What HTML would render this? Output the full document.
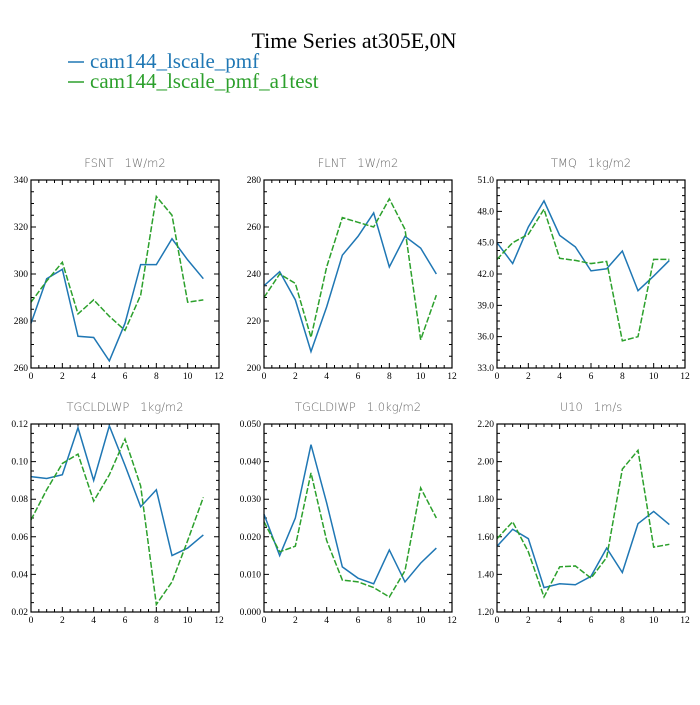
<!DOCTYPE html>
<html><head><meta charset="utf-8"><style>
body{margin:0;background:#fff;width:700px;height:700px;overflow:hidden}
svg text{font-family:"Liberation Serif",serif}
</style></head><body>
<svg id="c" width="700" height="700">
<text x="354" y="48" text-anchor="middle" font-size="22">Time Series at305E,0N</text>
<g>
<line x1="68" y1="62" x2="84" y2="62" stroke="#1f77b4" stroke-width="1.5"/>
<text x="90" y="68" font-size="21" fill="#1f77b4">cam144_lscale_pmf</text>
<line x1="68" y1="82" x2="84" y2="82" stroke="#2ca02c" stroke-width="1.5"/>
<text x="90" y="88" font-size="21" fill="#2ca02c">cam144_lscale_pmf_a1test</text>
</g>
</svg>
<script>
const months=[0,1,2,3,4,5,6,7,8,9,10,11];
const titles=["FSNT   1W/m2","FLNT   1W/m2","TMQ   1kg/m2","TGCLDLWP   1kg/m2","TGCLDIWP   1.0kg/m2","U10   1m/s"];
const yMins=[260,200,33,0.02,0,1.2];
const yMaxs=[340,280,51,0.12,0.05,2.2];
const yStepsMajor=[20,20,3,0.02,0.01,0.2];
const yDecimals=[0,0,1,2,3,2];
const fsntA=[279,298,302,273.5,273,263,279,304,304,315,306,298];
const fsntB=[288,297,305,283,289,282,276,291,333,325,288,289];
const flntA=[235,241,229,207,226,248,256,266,243,256,251,240];
const flntB=[230,240,236,213,243,264,262,260,272,259,212,231];
const tmqA=[45.0,43.0,46.5,49.0,45.7,44.6,42.3,42.5,44.2,40.4,41.8,43.3];
const tmqB=[43.4,45.0,45.8,48.2,43.5,43.3,43.0,43.2,35.6,36.0,43.4,43.4];
const lwpA=[0.092,0.091,0.093,0.118,0.090,0.119,0.098,0.076,0.085,0.050,0.054,0.061];
const lwpB=[0.069,0.085,0.099,0.104,0.079,0.093,0.112,0.087,0.024,0.036,0.058,0.081];
const iwpA=[0.026,0.015,0.025,0.0445,0.029,0.012,0.009,0.0075,0.0165,0.008,0.013,0.017];
const iwpB=[0.024,0.016,0.0175,0.037,0.019,0.0085,0.008,0.0065,0.004,0.011,0.033,0.025];
const u10A=[1.55,1.64,1.59,1.33,1.35,1.345,1.39,1.54,1.41,1.67,1.735,1.665];
const u10B=[1.59,1.68,1.52,1.28,1.44,1.445,1.38,1.49,1.96,2.06,1.545,1.56];
const seriesA=[fsntA,flntA,tmqA,lwpA,iwpA,u10A];
const seriesB=[fsntB,flntB,tmqB,lwpB,iwpB,u10B];
const names=["fsnt","flnt","tmq","tgcldlwp","tgcldiwp","u10"];
const NS="http://www.w3.org/2000/svg";
const svg=document.getElementById('c');
function mk(tag,attrs,parent){const e=document.createElementNS(NS,tag);for(const k in attrs)e.setAttribute(k,attrs[k]);parent.appendChild(e);return e;}
const lefts=[31,264,497],tops=[180,424];const W=188,H=188;
for(let p=0;p<6;p++){
  const L=lefts[p%3],T=tops[Math.floor(p/3)];
  const g=mk('g',{},svg);
  
  
  const yMin=yMins[p],yMax=yMaxs[p];
  const xs=v=>L+v/12*W, ys=v=>T+H-(v-yMin)/(yMax-yMin)*H;
  const t=mk('text',{x:L+W/2,y:T-13,'text-anchor':'middle','font-size':11.5,fill:'#666','style':'font-family:"DejaVu Sans",sans-serif;white-space:pre;font-weight:300'},g);
  t.textContent=titles[p];
  
  
  let d='';
  for(let i=0;i<=24;i++){const x=xs(i/2),len=i%4==0?5:3;d+=`M${x},${T+H}v${-len}M${x},${T}v${len}`;}
  const st=yStepsMajor[p]/4,n=Math.round((yMax-yMin)/st);
  for(let i=0;i<=n;i++){const y=ys(yMin+i*st),len=i%4==0?5:3;d+=`M${L},${y}h${len}M${L+W},${y}h${-len}`;}
  const tk=mk('path',{d:d,stroke:'#000','stroke-width':1,fill:'none'},g);
  
  
  for(let v=0;v<=12;v+=2){const tx=mk('text',{x:xs(v),y:T+H+11,'text-anchor':'middle','font-size':9.5},g);tx.textContent=v;
    
    }
  const nm=Math.round((yMax-yMin)/yStepsMajor[p]);
  for(let i=0;i<=nm;i++){const v=yMin+i*yStepsMajor[p];const ty=mk('text',{x:L-3,y:ys(v)+3,'text-anchor':'end','font-size':9.5},g);ty.textContent=v.toFixed(yDecimals[p]);
    
    }
  const la=mk('polyline',{points:months.map((m,i)=>xs(m)+','+ys(seriesA[p][i])).join(' '),fill:'none',stroke:'#1f77b4','stroke-width':1.5},g);
  
  
  const lb=mk('polyline',{points:months.map((m,i)=>xs(m)+','+ys(seriesB[p][i])).join(' '),fill:'none',stroke:'#2ca02c','stroke-width':1.5,'stroke-dasharray':'6,2'},g);
  
  
  const fr=mk('rect',{x:L,y:T,width:W,height:H,fill:'none',stroke:'#000','stroke-width':1.2},g);
  
  
}
</script>
</body></html>
